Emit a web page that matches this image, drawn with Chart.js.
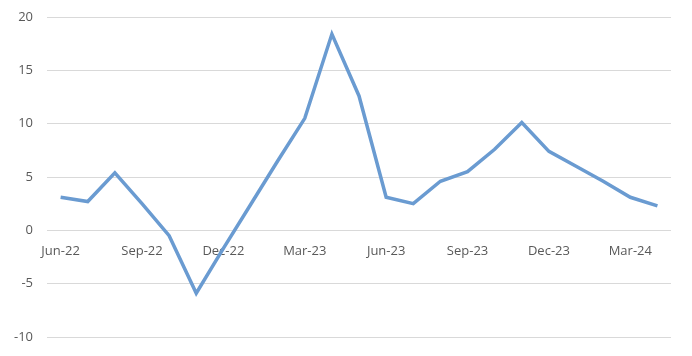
<!DOCTYPE html>
<html>
<head>
<meta charset="utf-8">
<script src="https://cdn.jsdelivr.net/npm/chart.js@4"></script>
<style>
html,body{margin:0;padding:0;background:#fff;}
#wrap{width:692px;height:356px;position:relative;}
</style>
</head>
<body>
<div id="wrap"><canvas id="c"></canvas></div>
<script>
const categories = ["Jun-22","Jul-22","Aug-22","Sep-22","Oct-22","Nov-22","Dec-22","Jan-23","Feb-23","Mar-23","Apr-23","May-23","Jun-23","Jul-23","Aug-23","Sep-23","Oct-23","Nov-23","Dec-23","Jan-24","Feb-24","Mar-24","Apr-24"];
const values = [3.1, 2.7, 5.4, 2.5, -0.5, -5.9, -1.7, 2.4, 6.5, 10.5, 18.4, 12.6, 3.1, 2.5, 4.6, 5.5, 7.6, 10.1, 7.4, 6.0, 4.6, 3.1, 2.3];
const yTicks = [-10, -5, 0, 5, 10, 15, 20];

new Chart(document.getElementById('c'), {
  type: 'line',
  data: {
    labels: categories,
    datasets: [{
      data: values,
      borderColor: '#6a9bd1',
      borderWidth: 3.5,
      pointRadius: 0,
      tension: 0,
      fill: false
    }]
  },
  options: {
    responsive: true,
    maintainAspectRatio: false,
    animation: false,
    layout: { padding: { top: 17, right: 21, bottom: 19, left: 0 } },
    plugins: { legend: { display: false }, tooltip: { enabled: false } },
    scales: {
      x: {
        type: 'category',
        offset: true,
        position: { y: 0 },
        grid: { display: false, drawTicks: false },
        border: { display: false },
        afterFit: function(s) { s.height = 0; },
        ticks: {
          autoSkip: false,
          maxRotation: 0,
          padding: 13,
          color: '#595959',
          font: { family: 'Open Sans', size: 13 },
          callback: function(v, i) { return i % 3 === 0 ? categories[i] : ''; }
        }
      },
      y: {
        min: -10,
        max: 20,
        afterBuildTicks: function(axis) { axis.ticks = yTicks.map(v => ({ value: v })); },
        afterFit: function(s) { s.paddingTop = 8; s.paddingBottom = 8; },
        grid: { color: '#d9d9d9', lineWidth: 1, drawTicks: false },
        border: { display: false },
        ticks: {
          padding: 14,
          color: '#595959',
          font: { family: 'Open Sans', size: 13 }
        }
      }
    }
  }
});
</script>
</body>
</html>
